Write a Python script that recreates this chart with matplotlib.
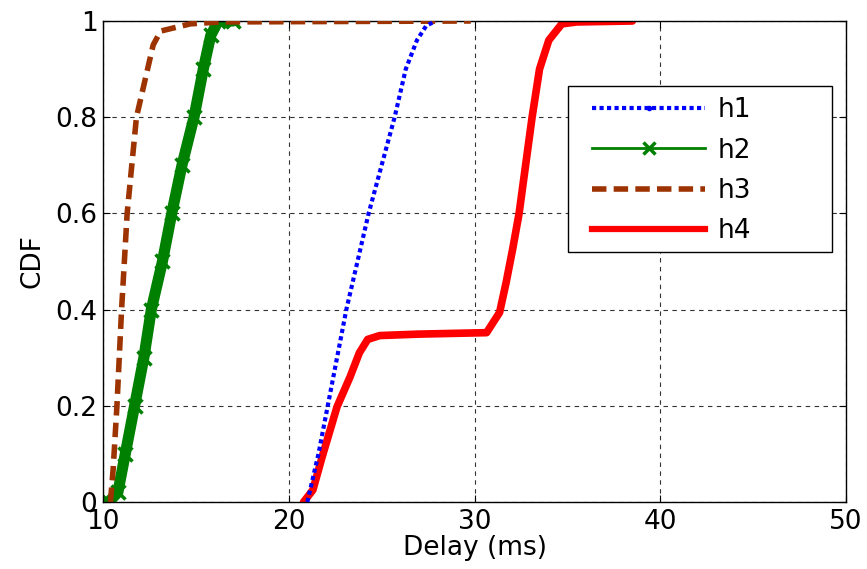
import matplotlib
matplotlib.use('Agg')
import matplotlib.pyplot as plt
from matplotlib.lines import Line2D
from matplotlib.patches import Rectangle

# CDF curves (delay in ms, cumulative fraction)
h1_x = [21.0, 21.3, 21.6, 22.1, 22.6, 23.1, 23.7, 24.3, 25.0, 25.7, 26.3, 26.9, 27.4, 27.9]
h1_y = [0.0, 0.05, 0.10, 0.20, 0.30, 0.40, 0.50, 0.60, 0.70, 0.80, 0.90, 0.96, 0.99, 1.0]

h2_x = [10.3, 10.8, 11.2, 11.7, 12.2, 12.6, 13.2, 13.7, 14.25, 14.9, 15.4, 15.8, 16.2, 17.0]
h2_y = [0.0, 0.02, 0.10, 0.20, 0.30, 0.40, 0.50, 0.60, 0.70, 0.80, 0.90, 0.97, 1.0, 1.0]

h3_x = [10.4, 10.55, 10.75, 11.0, 11.3, 11.8, 12.4, 12.7, 13.1, 14.7, 16.3, 29.8]
h3_y = [0.0, 0.07, 0.20, 0.40, 0.60, 0.80, 0.90, 0.95, 0.979, 0.994, 0.998, 1.0]

h4_x = [20.8, 21.3, 21.8, 22.6, 23.3, 23.8, 24.25, 24.9, 27.0, 30.65, 31.35, 31.7,
        32.05, 32.4, 32.75, 33.1, 33.5, 34.0, 34.7, 35.5, 38.5]
h4_y = [0.0, 0.025, 0.094, 0.198, 0.26, 0.31, 0.338, 0.346, 0.349, 0.352, 0.394, 0.456,
        0.525, 0.60, 0.70, 0.80, 0.90, 0.96, 0.994, 0.998, 1.0]

labels = ['h1', 'h2', 'h3', 'h4']
xticks = [10, 20, 30, 40, 50]
yticks = [0, 0.2, 0.4, 0.6, 0.8, 1]
ytick_labels = ['0', '0.2', '0.4', '0.6', '0.8', '1']
brown = '#9c3300'
green = '#008000'
fs = 19

plt.rcParams['font.family'] = ['DejaVu Sans']

fig = plt.figure(figsize=(8.67, 5.69), dpi=100)
ax = fig.add_axes([0.1188, 0.1178, 0.857, 0.8453])

# h2 is a dense cloud of x markers in the original: thick line + markers
ax.plot(h2_x, h2_y, '-', color=green, lw=8, solid_capstyle='round', zorder=2)
ax.plot(h2_x, h2_y, 'x', color=green, ms=10, mew=2.5, zorder=2)
ax.plot(h3_x, h3_y, '--', color=brown, lw=4, dashes=(2.6, 1.3), zorder=3)
ax.plot(h4_x, h4_y, '-', color='red', lw=5.5, solid_capstyle='round', zorder=2)
ax.plot(h1_x, h1_y, color='blue', lw=3, dashes=(1, 0.8), zorder=3)

ax.set_xlim(10, 50)
ax.set_ylim(0, 1)
ax.set_xticks(xticks)
ax.set_yticks(yticks)
ax.set_yticklabels(ytick_labels)
ax.tick_params(direction='in', top=True, right=True, length=5, width=0.8,
               labelsize=fs)
ax.tick_params(axis='x', pad=5)
ax.tick_params(axis='y', pad=4)
ax.grid(True, color='#333333', linestyle=(0, (4, 4)), linewidth=0.8)
for s in ax.spines.values():
    s.set_linewidth(1.0)
ax.set_xlabel('Delay (ms)', fontsize=fs, labelpad=0)
ax.set_ylabel('CDF', fontsize=fs, labelpad=7)

handles = [
    Line2D([], [], color='blue', lw=3, dashes=(1, 0.8), marker='.', ms=6),
    Line2D([], [], color=green, ls='-', lw=2, marker='x', ms=8, mew=2.5),
    Line2D([], [], color=brown, lw=4, dashes=(2.6, 1.3)),
    Line2D([], [], color='red', ls='-', lw=4.5),
]
ax.add_patch(Rectangle((0.626, 0.520), 0.355, 0.345, transform=ax.transAxes,
                       facecolor='white', edgecolor='black', lw=1.0, zorder=4))
leg = ax.legend(handles, labels, loc='upper left', bbox_to_anchor=(0.658, 0.841),
                fontsize=fs, handlelength=4.3, handletextpad=0.45, labelspacing=0.54,
                borderpad=0, borderaxespad=0, frameon=False)
leg.set_zorder(5)

fig.savefig('out.png', dpi=100)
